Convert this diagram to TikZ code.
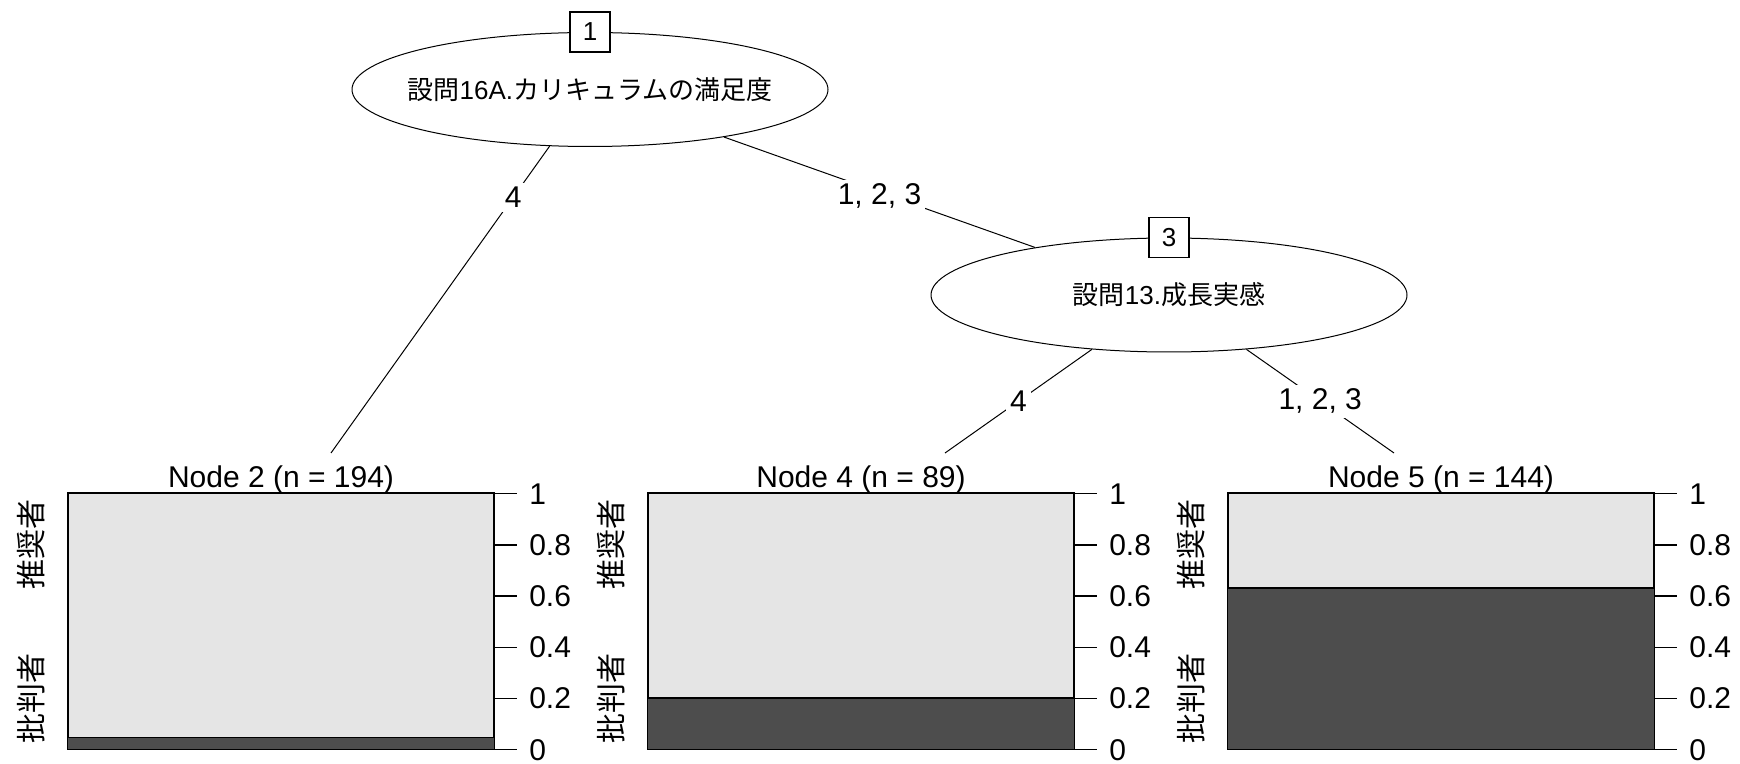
\documentclass[tikz,border=0pt]{standalone}
\usepackage{fontspec}
\setmainfont{Liberation Sans}
\newfontfamily\cjk{Noto Sans CJK JP}
\usepackage{tikz}
\usetikzlibrary{positioning, shapes.geometric, calc}

\definecolor{barlight}{HTML}{E5E5E5}
\definecolor{bardark}{HTML}{4D4D4D}

\begin{document}
\begin{tikzpicture}[
    x=0.5pt, y=-0.5pt,
    split/.style={
        ellipse, draw=black, line width=0.5pt, fill=white,
        minimum width=238pt, minimum height=57pt, inner sep=0pt
    },
    splittext/.style={inner sep=0pt, font=\fontsize{13}{15}\selectfont},
    idbox/.style={
        rectangle, draw=black, line width=0.6pt, fill=white,
        minimum width=20pt, minimum height=20pt, inner sep=0pt,
        font=\fontsize{13}{15}\selectfont
    },
    panel/.style={
        rectangle, draw=black, line width=0.7pt, fill=barlight,
        minimum width=213pt, minimum height=128pt, inner sep=0pt
    },
    edge/.style={line width=0.5pt, black},
    lbl/.style={fill=white, inner sep=2pt, font=\fontsize{15}{18}\selectfont},
    ttl/.style={anchor=base, inner sep=0pt, font=\fontsize{15}{18}\selectfont},
    tick/.style={line width=0.6pt},
    ticklbl/.style={anchor=west, inner sep=0pt, xshift=6pt, font=\fontsize{15}{18}\selectfont},
    cls/.style={rotate=90, inner sep=0pt, font=\cjk\fontsize{15}{18}\selectfont},
]

\useasboundingbox (0,0) rectangle (1740,764);

% Split nodes
\node[split] (split1) at (590,89.5) {};
\node[split] (split3) at (1169,295) {};
\node[splittext] (q1) at (split1) {{\cjk 設問}16A.{\cjk カリキュラムの満足度}};
\node[splittext] (q3) at (split3) {{\cjk 設問}13.{\cjk 成長実感}};
\node[idbox] (id1) at (split1.north) {1};
\node[idbox] (id3) at (split3.north) {3};

% Terminal panels
\node[panel] (bar2) at (281,621) {};
\node[panel] (bar4) at (861,621) {};
\node[panel] (bar5) at (1441,621) {};

\node[ttl] (ttl2) at ($(bar2.north)+(0,-5)$) {Node 2 (n = 194)};
\node[ttl] (ttl4) at ($(bar4.north)+(0,-5)$) {Node 4 (n = 89)};
\node[ttl] (ttl5) at ($(bar5.north)+(0,-5)$) {Node 5 (n = 144)};

% Share of 批判者, axis and class labels per panel
\foreach \p/\v in {bar2/0.047, bar4/0.202, bar5/0.632} {
    \filldraw[fill=bardark, draw=black, line width=0.7pt]
        (\p.south west) rectangle ($(\p.south east)+(0,-256*\v)$);
    \foreach \t [count=\i] in {0,0.2,0.4,0.6,0.8,1}
        \draw[tick] ($(\p.south east)+(0,-256*\t)$) -- ++(22,0)
            node[ticklbl] (\p-tick\i) {\t};
    \node[cls] (\p-pos) at ($(\p.south west)+(-36,-256*0.8)$) {推奨者};
    \node[cls] (\p-neg) at ($(\p.south west)+(-36,-256*0.2)$) {批判者};
}

% Edge ends above the panels
\coordinate (top2) at (331,453);
\coordinate (top4) at (945,453);
\coordinate (top5) at (1394,453);

% Edges
\draw[edge] (split1) -- node[lbl, pos=0.167] {4} (top2);
\draw[edge] (split1) -- node[lbl, pos=0.5, yshift=-2pt] {1, 2, 3} (split3);
\draw[edge] (split3) -- node[lbl, pos=0.5] {4} (top4);
\draw[edge] (split3) -- node[lbl, pos=0.5] {1, 2, 3} (top5);

\end{tikzpicture}
\end{document}
